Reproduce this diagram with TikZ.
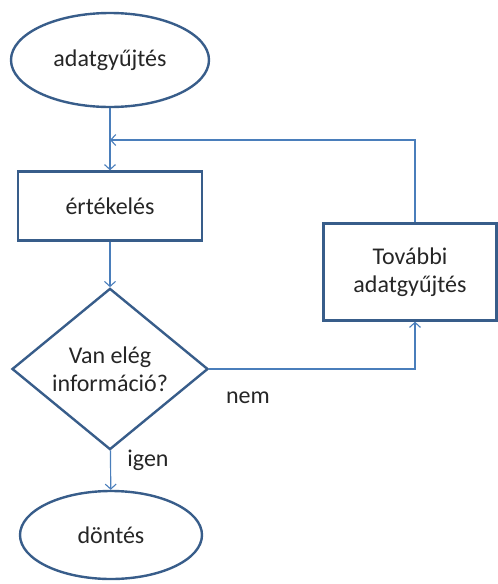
\documentclass[tikz,border=0pt]{standalone}
\usepackage{fontspec}
\setmainfont{Carlito}
\usepackage{tikz}
\usetikzlibrary{arrows,arrows.meta,shapes,positioning}
\usepackage{xcolor}
\definecolor{fcdark}{RGB}{56,93,138}
\definecolor{fcline}{RGB}{74,126,187}
\definecolor{fctext}{RGB}{38,38,38}
\tikzstyle{arrow} = [-{Straight Barb[length=5pt,width=11pt,line width=1.1pt]},color=fcline,line width=1.2pt]
\tikzstyle{terminal} = [ellipse, draw=fcdark, line width=2.4pt, text=fctext, align=center]
\tikzstyle{process} = [rectangle, draw=fcdark, line width=2.4pt, text=fctext, align=center]
\tikzstyle{decision} = [diamond, draw=fcdark, line width=2.4pt, text=fctext, align=center, inner sep=0pt]
\tikzstyle{label} = [text=fctext]

\begin{document}
\begin{tikzpicture}[x=1pt, y=-1pt, font=\fontsize{24}{28.5}\selectfont]
\useasboundingbox (0,0) rectangle (498,584);
% Start and end
\node (collect) [terminal, minimum width=198pt, minimum height=94pt] at (110,60) {adatgyűjtés};
\node (decide) [terminal, minimum width=182pt, minimum height=88pt] at (111,535) {döntés};

% Main steps
\node (evaluate) [process, minimum width=184pt, minimum height=69pt] at (110,206) {értékelés};
\node (question) [decision, minimum width=196pt, minimum height=122pt] at (110,369) {Van elég\\információ?};
\node (further) [process, minimum width=173pt, minimum height=97pt] at (410,272) {További\\adatgyűjtés};

% Loop back point
\coordinate (join) at (110,140);

% Connections
\draw[arrow] (collect) -- (evaluate);
\draw[arrow] (evaluate) -- (question);
\draw[arrow] (question) -- (decide);
\draw[arrow] (question.east) -| ([xshift=5pt]further.south);
\draw[arrow] ([xshift=5pt]further.north) |- (join);

% Answers
\node (no) [label] at (248,398) {nem};
\node (yes) [label] at (148,460) {igen};
\end{tikzpicture}
\end{document}
